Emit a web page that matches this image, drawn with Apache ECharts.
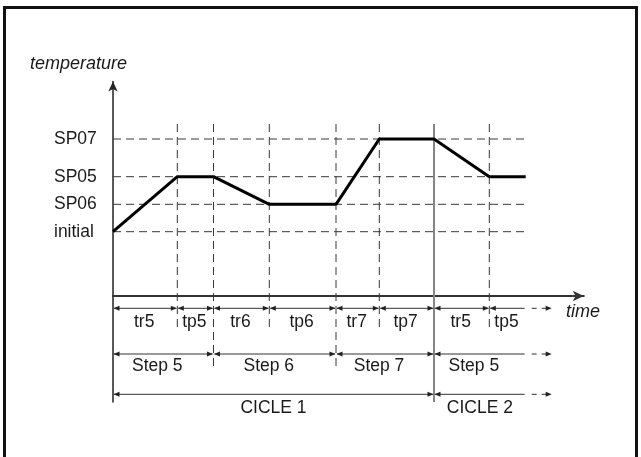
<!DOCTYPE html>
<html><head><meta charset="utf-8">
<script src="https://cdn.jsdelivr.net/npm/echarts@6/dist/echarts.min.js"></script>
<style>html,body{margin:0;padding:0;background:#fff}#c{width:641px;height:457px}</style>
</head><body><div id="c"></div>
<script>
// ---- data ----
const tempLabels = ['initial', 'SP06', 'SP05', 'SP07'];
const tempLevels = [6.43, 9.17, 11.93, 15.7];
const profileTimes = [0, 6.43, 10.05, 15.63, 22.3, 26.63, 32.1, 37.63, 41.27];
const profileTemps = [6.43, 11.93, 11.93, 9.17, 9.17, 15.7, 15.7, 11.93, 11.93];
const phaseLabels = ['tr5', 'tp5', 'tr6', 'tp6', 'tr7', 'tp7', 'tr5', 'tp5'];
const phaseBounds = [0, 6.43, 10.05, 15.63, 22.3, 26.63, 32.1, 37.63, 41.27];
const stepLabels = ['Step 5', 'Step 6', 'Step 7', 'Step 5'];
const stepBounds = [0, 10.05, 22.3, 32.1, 41.27];
const cycleLabels = ['CICLE 1', 'CICLE 2'];
const cycleBounds = [0, 32.1, 41.27];
const openEnd = 43.87;
const guideTop = 17.2;
const levelEnd = 41.1;

// ---- chart ----
const FONT = '"Liberation Sans", Arial, Helvetica, sans-serif';
const chart = echarts.init(document.getElementById('c'), null, {renderer: 'canvas'});

function arrowHead(tipX, y, dir) {
  const L = 6, W = 2.5;
  return {type: 'polygon', shape: {points: [[tipX, y], [tipX - dir * L, y - W], [tipX - dir * L, y + W]]},
          style: {fill: '#222'}};
}

function makeRow(labels, bounds, lineDy, textDy, textDx) {
  const data = labels.map((l, i) => [bounds[i], bounds[i + 1], i]);
  return {
    type: 'custom', coordinateSystem: 'cartesian2d', silent: true, clip: false, z: 5, animation: false,
    data: data,
    encode: {x: [0, 1]},
    renderItem(params, api) {
      const i = api.value(2);
      const p0 = api.coord([api.value(0), 0]);
      const p1 = api.coord([api.value(1), 0]);
      const y = p0[1] + lineDy, ty = p0[1] + textDy;
      const a = p0[0], b = p1[0];
      const last = i === labels.length - 1;
      const ch = [
        {type: 'line', shape: {x1: a + 1, y1: y, x2: b - 1, y2: y}, style: {stroke: '#333', lineWidth: 1}},
        arrowHead(a + 0.5, y, -1)
      ];
      if (!last) {
        ch.push(arrowHead(b - 0.5, y, 1));
      } else {
        const e = api.coord([openEnd, 0])[0];
        ch.push({type: 'line', shape: {x1: b + 6, y1: y, x2: e - 4, y2: y},
                 style: {stroke: '#333', lineWidth: 1, lineDash: [5, 5]}});
        ch.push(arrowHead(e, y, 1));
      }
      ch.push({type: 'text', style: {text: labels[i], x: (a + b) / 2 + textDx, y: ty, align: 'center',
               verticalAlign: 'middle', fontSize: 17.5, fontFamily: FONT, fill: '#1a1a1a'}});
      return {type: 'group', children: ch};
    }
  };
}

// guide lines: [x1, y1, x2, y2, kind]
const guides = [];
tempLevels.forEach(v => guides.push([0, v, levelEnd, v, 0]));
phaseBounds.slice(1).forEach(x => {
  let bottom = -3.4, kind = 0;
  if (cycleBounds.slice(1, -1).includes(x)) { bottom = -10.6; kind = 1; }
  else if (stepBounds.slice(1, -1).includes(x)) { bottom = -7.4; }
  if (x === phaseBounds[phaseBounds.length - 1]) return;
  guides.push([x, guideTop, x, bottom, kind]);
});

const option = {
  animation: false,
  backgroundColor: '#fff',
  grid: {left: 113, right: 57.2, top: 81.5, bottom: 55, containLabel: false},
  xAxis: {
    type: 'value', min: 0, max: 47.08,
    axisLine: {show: true, onZero: true, symbol: ['none', 'arrow'], symbolSize: [8, 11],
               lineStyle: {color: '#333', width: 2}},
    axisTick: {show: false}, axisLabel: {show: false}, splitLine: {show: false}
  },
  yAxis: {
    type: 'value', min: -10.6, max: 21.45,
    axisLine: {show: true, onZero: false, symbol: ['none', 'arrow'], symbolSize: [7, 10],
               lineStyle: {color: '#222', width: 1.5}},
    axisTick: {show: false}, splitLine: {show: false},
    axisLabel: {
      show: true, customValues: tempLevels, align: 'left', margin: 59,
      fontSize: 17.5, fontFamily: FONT, color: '#1a1a1a',
      formatter: v => {
        let best = 0;
        tempLevels.forEach((t, i) => { if (Math.abs(t - v) < Math.abs(tempLevels[best] - v)) best = i; });
        return tempLabels[best];
      }
    }
  },
  graphic: [
    {type: 'rect', shape: {x: 4.5, y: 7.5, width: 632, height: 460}, style: {fill: 'none', stroke: '#111', lineWidth: 3}, z: 100},
    {type: 'text', left: 30, top: 55, style: {text: 'temperature', fontSize: 18, fontStyle: 'italic', fontFamily: FONT, fill: '#1a1a1a'}},
    {type: 'text', left: 566, top: 303, style: {text: 'time', fontSize: 18, fontStyle: 'italic', fontFamily: FONT, fill: '#1a1a1a'}}
  ],
  series: [
    {
      type: 'custom', coordinateSystem: 'cartesian2d', silent: true, clip: false, z: 1, animation: false,
      data: guides,
      encode: {x: [0, 2], y: [1, 3]},
      renderItem(params, api) {
        const p0 = api.coord([api.value(0), api.value(1)]);
        const p1 = api.coord([api.value(2), api.value(3)]);
        const solid = api.value(4) === 1;
        return {type: 'line', shape: {x1: p0[0], y1: p0[1], x2: p1[0], y2: p1[1]},
                style: solid ? {stroke: '#858585', lineWidth: 2} : {stroke: '#383838', lineWidth: 1, lineDash: [8, 5]}};
      }
    },
    {
      type: 'line', z: 3, symbol: 'none', silent: true,
      data: profileTimes.map((t, i) => [t, profileTemps[i]]),
      lineStyle: {color: '#000', width: 3}
    },
    makeRow(phaseLabels, phaseBounds, 12.3, 25.7, -1),
    makeRow(stepLabels, stepBounds, 58, 70, -6),
    makeRow(cycleLabels, cycleBounds, 98.3, 112.3, 0)
  ]
};
chart.setOption(option);
</script>
</body></html>
